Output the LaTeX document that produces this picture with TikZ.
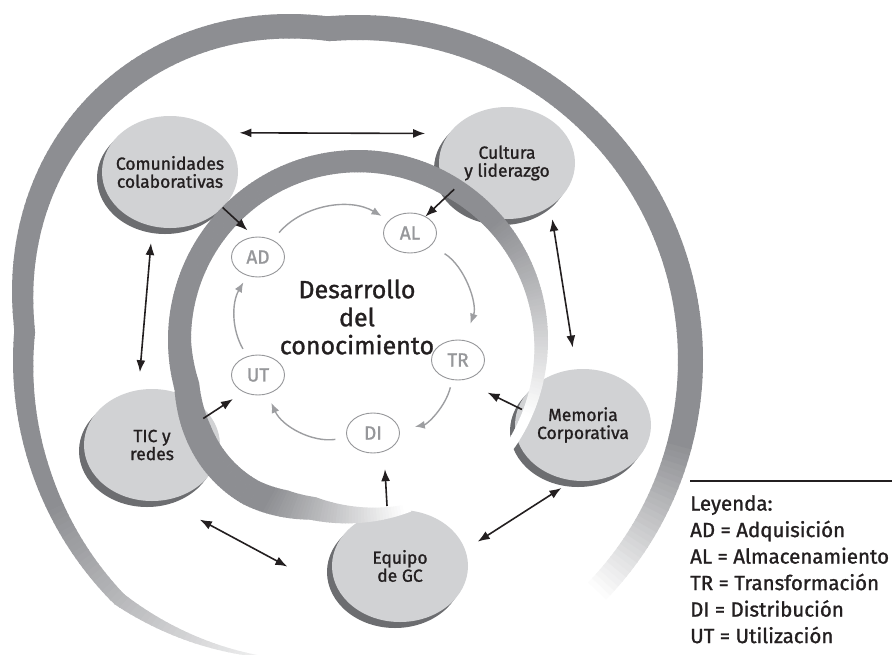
\documentclass[tikz,border=0pt]{standalone}
\usepackage{fontspec}
\setmainfont{Fira Sans}[BoldFont={Fira Sans}, BoldFeatures={FakeBold=1.2}]
\usepackage{tikz}
\usetikzlibrary{shapes.geometric}
\usetikzlibrary{shadows}
\usetikzlibrary{arrows.meta}

\definecolor{ringgray}{RGB}{141,142,146}
\definecolor{nodegray}{RGB}{209,210,212}
\definecolor{shadegray}{RGB}{108,109,112}
\definecolor{taggray}{RGB}{150,151,154}
\definecolor{cycgray}{RGB}{157,158,161}
\definecolor{ink}{RGB}{35,31,32}

\tikzset{
  declare function={
    oro(\x)=345+(\x>95)*(\x<175)*32*sin((\x-95)*2.25)-(\x>225)*(\x-225)*1.2;
    oth(\x)=25-0.1167*max(\x-140,0)-0.0433*max(\x-200,0)-0.304*max(\x-225,0);
    iro(\x)=190+(\x>195)*(\x<255)*12*sin((\x-195)*3)-0.2*max(\x-235,0);
    ith(\x)=9+0.137*min(\x+35,95)+0.0083*max(min(\x-60,120),0)+0.167*max(min(\x-180,30),0)-0.476*max(\x-245,0);
  },
  bubble/.style={ellipse, fill=nodegray, minimum width=136pt, minimum height=112pt,
    inner xsep=-30pt, inner ysep=0pt, outer sep=0pt, align=center, text=ink,
    font=\fontsize{17.5}{18}\selectfont\bfseries,
    drop shadow={shadow xshift=-5pt, shadow yshift=-6pt, fill=shadegray, opacity=1}},
  tag/.style={ellipse, draw=taggray, line width=0.9pt, fill=white, minimum width=53pt,
    minimum height=40pt, inner sep=0pt, outer sep=0pt, text=taggray,
    font=\fontsize{19}{19}\selectfont\bfseries},
  dbl/.style={ink, line width=1.6pt, {Latex[length=12pt,width=9pt]}-{Latex[length=12pt,width=9pt]}},
  arr/.style={ink, line width=1.6pt, -{Latex[length=12pt,width=9pt]}},
  cyc/.style={cycgray, line width=1.4pt, -{Latex[length=10pt,width=8pt]}}
}

\begin{document}
\begin{tikzpicture}[x=1pt,y=-1pt]
    \useasboundingbox (0,0) rectangle (892,654);

    \foreach \a in {-45,-44,...,252}{
        \pgfmathtruncatemacro\pc{max(0,min(100,(\a+45)/0.3,100-1.875*max(\a-205,0)))}
        \fill[ringgray!\pc] ({358+oro(\a)*cos(\a)},{360-oro(\a)*sin(\a)})
            -- ({358+oro(\a+1.2)*cos(\a+1.2)},{360-oro(\a+1.2)*sin(\a+1.2)})
            -- ({358+(oro(\a+1.2)-oth(\a+1.2))*cos(\a+1.2)},{360-(oro(\a+1.2)-oth(\a+1.2))*sin(\a+1.2)})
            -- ({358+(oro(\a)-oth(\a))*cos(\a)},{360-(oro(\a)-oth(\a))*sin(\a)}) -- cycle;
    }

    \node[bubble] (com) at (170,172) {Comunidades\\colaborativas};
    \node[bubble] (cul) at (507,163) {Cultura\\y liderazgo};
    \node[bubble] (mem) at (583,425) {Memoria\\Corporativa};
    \node[bubble] (tic) at (152,445) {TIC y\\redes};
    \node[bubble] (eq) at (400,566) {Equipo\\de GC};

    \foreach \a in {-35,-34,...,286}{
        \pgfmathtruncatemacro\pc{max(0,min(100,(\a+25)/0.65,100-(\a-240)/0.45))}
        \fill[ringgray!\pc] ({358+iro(\a)*cos(\a)},{340-iro(\a)*sin(\a)})
            -- ({358+iro(\a+1.2)*cos(\a+1.2)},{340-iro(\a+1.2)*sin(\a+1.2)})
            -- ({358+(iro(\a+1.2)-ith(\a+1.2))*cos(\a+1.2)},{340-(iro(\a+1.2)-ith(\a+1.2))*sin(\a+1.2)})
            -- ({358+(iro(\a)-ith(\a))*cos(\a)},{340-(iro(\a)-ith(\a))*sin(\a)}) -- cycle;
    }

    \node[tag] (ad) at (258,257) {AD};
    \node[tag] (al) at (410,233) {AL};
    \node[tag] (tr) at (458,360) {TR};
    \node[tag] (di) at (373,433) {DI};
    \node[tag] (ut) at (258,375) {UT};

    \node[text=ink, align=center, font=\fontsize{25}{28}\selectfont\bfseries] (des) at (357,317) {Desarrollo\\del\\conocimiento};

    \draw[cyc, shorten <=10pt, shorten >=9pt] (ad) to[bend left=40] (al);
    \draw[cyc, shorten <=16pt, shorten >=18pt] (al) to[bend left=39] (tr);
    \draw[cyc, shorten <=8pt, shorten >=16pt] (tr) to[bend left=33] (di);
    \draw[cyc, shorten <=12pt, shorten >=10pt] (di) to[bend left=37] (ut);
    \draw[cyc, shorten <=9pt, shorten >=8pt] (ut) to[bend left=30] (ad);

    \draw[dbl, shorten <=21pt, shorten >=24pt] (com.39) -- (cul.153);
    \draw[dbl, shorten <=17pt, shorten >=18pt] (com.-108) -- (tic.104);
    \draw[dbl, shorten <=13pt, shorten >=22pt] (cul.-45) -- (mem.97);
    \draw[dbl, shorten <=41pt, shorten >=63pt] (tic.-78) -- (eq.208);
    \draw[dbl, shorten <=15pt, shorten >=14pt] (eq.14) -- (mem.-100);
    \draw[arr, shorten >=10pt] (com.-34) -- (ad.99);
    \draw[arr, shorten <=-6pt] (cul.208) -- (al.47);
    \draw[arr, shorten <=-4pt, shorten >=29pt] (mem.165) -- (tr.-80);
    \draw[arr, shorten <=-7pt, shorten >=13pt] (tic.28) -- (ut.-130);
    \draw[arr, shorten <=5pt, shorten >=18pt] (eq.103) -- (di.-59);

    \draw[ink, line width=1.1pt] (690,481) -- (892,481);
    \node[anchor=north west, inner sep=0pt, align=left, text=ink, font=\fontsize{20.5}{26.5}\selectfont\bfseries] (ley) at (690,495)
        {Leyenda:\\AD = Adquisición\\AL = Almacenamiento\\TR = Transformación\\DI = Distribución\\UT = Utilización};
\end{tikzpicture}
\end{document}
